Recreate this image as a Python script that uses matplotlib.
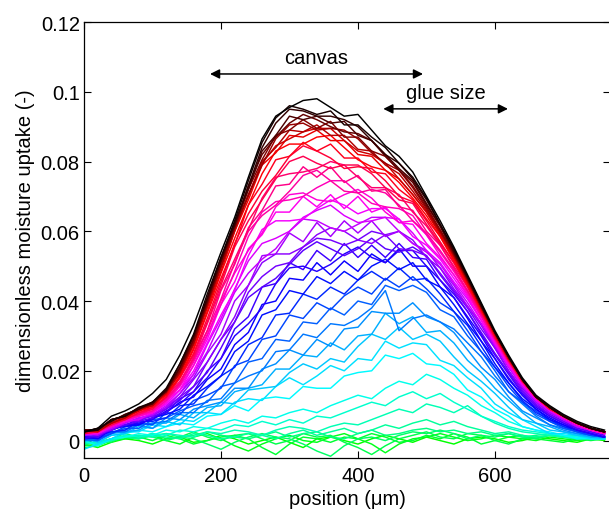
import numpy as np
import matplotlib
matplotlib.use("Agg")
import matplotlib.pyplot as plt
from matplotlib.colors import LinearSegmentedColormap

plt.rcParams["font.family"] = ["Liberation Sans", "DejaVu Sans"]

# sample positions across the specimen (um)
position = [0, 20, 40, 60, 80, 100, 120, 140, 160, 180, 200, 220, 240, 260,
            280, 300, 320, 340, 360, 380, 400, 420, 440, 460, 480, 500, 520,
            540, 560, 580, 600, 620, 640, 660, 680, 700, 720, 740, 760]

# uptake profiles in time order, values in units of 1e-3
green_scans = [
    [-1, -2, -0.5, 0.5, 0, -1, 0.5, 1, -0.5, 0, 1.5, 0.5, -1, 0, 1, -0.5, -2, 0.5, 1, 0, -1, 0.5, 1.5, 0.5, -0.5, 1, 0, -1, 0.5, 1, 0.5, -0.5, 0, 1, 0.5, 0, -0.5, 0.5, 0],
    [0, -1, 0.5, 1, 0.5, 1.5, 0, -1, 1, 2, 0.5, -1.5, -3, -1, 0.5, 1.5, 0, -0.5, 1, 2, 0.5, -1, -3.5, -1, 0.5, 1, 2, 1, 0, 0.5, 1.5, 1, 0.5, 0, 1, 0.5, 0, 0.5, 1],
    [-1.5, -1, 0, 0.5, 1, 0, 1.5, 0.5, -1, 0, 1, 1.5, 0.5, -2, -4, -1, 1, 0.5, -0.5, 1, 0.5, 2, 1, -0.5, 0, 1.5, 0.5, 2, 1, -1, 0, 1, 1.5, 0.5, 0, -0.5, 0.5, 1, 0.5],
    [0.5, 0, -0.5, 1.5, 1, 2, 0.5, 1, 2.5, 1, 0, 1.5, 2, 0.5, -1, 0, 2, 1, 1.5, -0.5, -2, -4, -1.5, 0.5, 1.5, 2.5, 1, 0.5, 2, 1.5, 0, -1, 0.5, 1, 1.5, 1, 0.5, 0, 0.5],
    [-2, -1.5, 0, 1, 1.5, 1, 0, 1, 0.5, -1, -2.5, -0.5, 1, 2, 1, 0.5, -1, -3, -4.5, -1.5, 0.5, 1, 0, 1.5, 2.5, 2, 3, 2, 0.5, 1.5, 1, 2, 1, 0.5, 1.5, 1, 0.5, 1, 0.5],
    [-1, -0.5, 0.5, 2, 1, 1.5, 2, 1, 1.5, 2.5, 1.5, 1, 0.5, 1.5, 2.5, 1, 2, 2.5, 1, 0.5, 2, 3, 1.5, 2, 3, 3.5, 2.5, 3, 2, 2.5, 1.5, 2, 1, 1.5, 2, 1, 1.5, 1, 0.5],
    [-1, -0.5, 0.5, 1, 0.5, 1.5, 1, 0.5, 2, 1.5, 0.5, 1, 2, 1.5, 0.5, 2, 3, 1.5, 2.5, 3.5, 2, 3, 4.5, 3.5, 5, 6, 4.5, 5.5, 4, 3, 2, 2.5, 1.5, 1, 1.5, 1, 0.5, 1, 0.5],
    [-0.5, -1, 0, 1, 1.5, 1, 2, 1.5, 1, 2.5, 2, 3, 2.5, 1.5, 3, 4, 3.5, 2.5, 4, 5, 4.5, 6, 7.5, 9, 8, 10.5, 9.5, 8, 10, 7, 5, 3.5, 2.5, 2, 1.5, 1, 1.5, 1, 0.5],
    [0, -1, 0.5, 1.5, 1, 2, 1.5, 3, 2.5, 3.5, 3, 4.5, 4, 5.5, 4.5, 6, 5, 7, 6.5, 8, 9.5, 11, 10, 12.5, 14, 12, 13.5, 11, 9, 7, 5.5, 4, 3, 2.5, 2, 1.5, 1, 1, 0.5],
    [0, -1.5, 0.5, 1, 2, 1.5, 3, 2.5, 4, 3.5, 5, 6, 5, 7, 6.5, 8, 9, 8, 10, 11.5, 13, 12, 15, 17, 16, 19, 17.5, 15, 13, 10, 8, 5.5, 4, 3, 2, 1.5, 1, 0.5, 0.5],
]

cyan_scans = [
    [0.5, -0.5, 1.5, 2, 3, 2.5, 4, 5, 4.5, 7, 7.5, 10, 8.5, 12, 12.5, 12, 15.5, 15, 15, 18.5, 19.5, 20, 24.5, 23.5, 25, 22, 21.5, 19, 14.5, 12.5, 9, 7, 4, 3, 2.5, 1.5, 0.5, 0.5, 0.5],
    [-2.5, -1, 0.5, 2.5, 2.5, 4.5, 4, 6, 5.5, 8, 7.5, 11, 12, 11.5, 15.5, 18, 16, 18.5, 21.5, 20, 23.5, 23, 28.5, 26.5, 28, 27.5, 23, 21.5, 18, 15, 10.5, 8, 6, 4, 2, 2, 1.5, 0.5, 0.5],
    [1, -0.5, 1.5, 2, 4, 3.5, 5.5, 4.5, 8, 8, 11, 10.5, 14.5, 15, 15.5, 19.5, 22, 20.5, 23.5, 22.5, 27, 30.5, 29, 32.5, 29, 30.5, 28.5, 24, 20, 17, 13.5, 9.5, 6, 5, 3, 2.5, 1.5, 1, 0.5],
    [0, 0.5, 2, 2.5, 3, 5, 5, 7.5, 6.5, 9.5, 10, 14, 15, 16, 20.5, 20.5, 24.5, 24, 28, 26, 30, 30.5, 36.5, 33.5, 35.5, 31, 31.5, 28, 23, 19.5, 15, 11.5, 8, 5, 4, 2.5, 2, 1, 1],
    [0.5, 0, 2.5, 3, 4.5, 3.5, 6.5, 6, 9, 10, 11, 15, 15, 20.5, 22, 26, 24.5, 29, 27, 32, 32.5, 37, 36.5, 36.5, 39.5, 35.5, 34, 31, 26, 21, 17.5, 12.5, 8.5, 6.5, 4.5, 3, 2, 1.5, 1],
    [0, 0, 2.5, 2.5, 4.5, 5, 5.5, 8, 8, 11.5, 12, 16.5, 18.5, 20, 25.5, 26, 30.5, 29.5, 33.5, 33, 35, 38, 43, 31.5, 35, 36, 34, 32, 28, 24, 18.5, 14, 10.5, 7, 4.5, 3.5, 2.5, 1.5, 1],
    [0.5, 0, 2, 3.5, 3.5, 6, 6.5, 8.5, 10, 11, 15.5, 16.5, 22.5, 23.5, 29, 28.5, 34, 33.5, 38, 36, 40, 39, 44.5, 43, 44.5, 42.5, 37.5, 35.5, 30, 25.5, 20, 14, 11, 7.5, 5.5, 3.5, 2.5, 1.5, 1],
    [1, 0.5, 2, 4, 5, 4.5, 8, 7.5, 11.5, 13, 15, 21.5, 23, 29, 30, 36, 35, 39.5, 37.5, 41.5, 44, 42, 46.5, 44, 47, 43.5, 39.5, 37, 31.5, 25.5, 21, 15.5, 11, 8.5, 5.5, 4, 2.5, 1.5, 1],
    [1, 1.5, 2.5, 3, 5.5, 5.5, 6.5, 10, 10.5, 15, 18.5, 21, 27.5, 29.5, 36, 36.5, 42, 40.5, 44, 42, 46, 48.5, 46, 49.5, 46, 46.5, 42, 37, 33, 27, 21, 16.5, 11.5, 8, 6, 4, 3, 2, 1],
    [0.5, 1, 3.5, 4, 4.5, 6.5, 7.5, 9, 13, 15.5, 18.5, 25.5, 28.5, 36, 37.5, 43, 42, 47, 45, 48.5, 46, 50, 52, 49, 51, 46, 44, 39, 33.5, 28.5, 22, 16.5, 12, 9, 6, 4.5, 3, 2, 1],
]

blue_scans = [
    [1, 0.5, 3, 4.5, 4.5, 6.5, 8, 11, 12.5, 17.5, 20.5, 27.5, 31, 39, 40, 46.5, 46, 51, 47.5, 51.5, 48.5, 53.5, 51, 55, 50, 50, 44, 41, 35, 28.5, 23.5, 17.5, 13, 9, 6.5, 4.5, 3, 2, 1],
    [1, 1, 3, 4.5, 5, 6, 8.5, 10.5, 14, 18, 23.5, 30, 33.5, 38, 45, 49.5, 50, 48.5, 50.5, 53.5, 55.5, 52.5, 51, 54.5, 54.5, 50, 46, 41, 35.5, 30, 23.5, 18, 13, 9.5, 7, 5, 3, 2, 1],
    [0.5, 1.5, 3, 4.5, 6, 7, 8, 12, 14, 20, 23.5, 32, 35.5, 44, 45, 51, 49, 54.5, 51.5, 56.5, 52.5, 56, 52.5, 56.5, 52.5, 52, 46, 42, 37, 30.5, 24.5, 19, 13.5, 10, 7, 5, 3.5, 2.5, 1.5],
    [1.5, 1, 3.5, 4.5, 5.5, 6.5, 9, 11.5, 15.5, 19.5, 26.5, 34, 41, 44, 46.5, 50.5, 54.5, 57, 55, 53, 55, 58, 55, 54, 55.5, 53, 47.5, 42.5, 37, 31, 25, 19.5, 14, 10, 7.5, 5.5, 3.5, 2.5, 1.5],
    [2, 1.5, 3.5, 5.5, 5.5, 7.5, 9, 12.5, 15.5, 22.5, 29, 34, 42.5, 47, 50, 51, 55.5, 58, 57.5, 56, 57.5, 60, 59, 55, 54.5, 53, 48, 43, 38, 32, 26.5, 20, 14.5, 10.5, 7.5, 5.5, 4, 3, 2],
    [1.5, 2, 3, 5, 6.5, 7, 9.5, 12.5, 17.5, 22.5, 29, 35.5, 44.5, 51, 53.5, 53.5, 55.5, 59, 61, 60, 57.5, 56.5, 59, 60, 57.5, 52.5, 49.5, 43.5, 38.5, 33, 26.5, 20, 15, 11, 8, 6, 4, 3, 2],
    [2, 1.5, 3.5, 5.5, 6, 7.5, 9.5, 13.5, 18, 25, 30.5, 40, 44.5, 53, 53.5, 59.5, 57, 62.5, 58.5, 63, 59.5, 63, 58.5, 60, 56.5, 54.5, 49.5, 44.5, 38.5, 33.5, 27, 21, 15.5, 11, 8, 6, 4, 3, 2],
    [1.5, 2, 3.5, 5, 6.5, 7.5, 10, 13.5, 19, 25.5, 34, 42.5, 48, 52, 55, 60, 63.5, 63, 61, 60, 62, 64, 64, 60, 56.5, 54, 50.5, 45, 39.5, 33.5, 27.5, 21, 15.5, 11.5, 8.5, 6, 4, 3, 2],
    [2.5, 2, 4.5, 5.5, 6, 8, 10.5, 14.5, 19, 27.5, 35, 43.5, 51.5, 56.5, 58, 60, 64, 66, 67.5, 64.5, 62.5, 63, 64, 63.5, 59.5, 54.5, 51, 45.5, 40.5, 34.5, 27.5, 21.5, 16, 11.5, 8.5, 6.5, 4.5, 3, 2],
    [2, 2, 4, 5.5, 7, 8, 10.5, 14.5, 20, 28, 36, 43, 53, 60.5, 63, 63, 63.5, 66.5, 69, 67.5, 65, 66.5, 66.5, 63.5, 58.5, 56, 52, 46.5, 41, 34.5, 28, 21.5, 16, 12, 9, 6.5, 4.5, 3, 2],
]

magenta_scans = [
    [2, 2.5, 4, 5.5, 7.5, 8, 11.5, 14.5, 21.5, 29, 39, 45.5, 55, 59, 65.5, 65.5, 70, 67, 70.5, 66.5, 70, 65.5, 67, 62.5, 62, 56.5, 52.5, 47.5, 41.5, 34.5, 28.5, 22, 16.5, 12, 9, 6.5, 4.5, 3, 2],
    [2, 2, 4, 5.5, 7, 8, 11, 15.5, 21.5, 30, 40, 48, 54.5, 59.5, 67, 70.5, 71, 69, 68.5, 70.5, 72, 69.5, 65.5, 62.5, 63, 59, 53, 47.5, 42, 35.5, 28.5, 22, 16.5, 12, 9, 6.5, 4.5, 3, 2],
    [2, 2.5, 4, 6, 7, 8.5, 12, 16, 22.5, 30.5, 39, 48.5, 58.5, 65.5, 68.5, 69, 70, 72.5, 74.5, 74.5, 71, 68, 67, 66.5, 64.5, 59, 54, 48.5, 42.5, 35.5, 29, 22.5, 16.5, 12, 9, 6.5, 4.5, 3, 2],
    [2.5, 2.5, 4.5, 6, 7.5, 8.5, 11.5, 16, 23, 31.5, 40.5, 51, 60, 64.5, 67.5, 71.5, 76, 77.5, 74.5, 71.5, 71, 72, 71, 67.5, 63, 59.5, 54.5, 49, 43, 36, 29, 22.5, 17, 12.5, 9, 7, 5, 3.5, 2.5],
    [2, 3, 4.5, 6.5, 7.5, 9.5, 12, 16.5, 24, 31.5, 43, 50.5, 61, 66, 73, 73.5, 78.5, 75.5, 78.5, 74, 76, 71.5, 72, 67, 66, 60, 56, 49.5, 43, 36.5, 29.5, 23, 17, 12.5, 9, 7, 5, 3.5, 2.5],
    [2.5, 2.5, 4.5, 6.5, 7.5, 9, 12.5, 17, 23.5, 33.5, 43.5, 52, 60.5, 69.5, 75.5, 76.5, 77, 78, 80, 79, 75.5, 72.5, 72.5, 70.5, 65.5, 61.5, 56, 50, 44, 36.5, 29.5, 23, 17, 12.5, 9, 7, 5, 3.5, 2.5],
    [2.5, 3, 4.5, 6, 8, 9, 12.5, 18, 24.5, 34, 44.5, 55.5, 63, 69, 75, 80, 81.5, 79.5, 78, 79, 79, 76.5, 72.5, 69, 68, 62, 56.5, 51, 44, 37, 29.5, 23, 17, 12.5, 9, 7, 5, 3.5, 2.5],
    [2, 2.5, 5, 6, 8, 9.5, 12.5, 18, 25, 35, 45.5, 56.5, 65, 71.5, 76, 81.5, 84.5, 83, 81, 78, 78.5, 78, 74.5, 70, 68.5, 63, 57, 51, 44.5, 37, 30, 23, 17, 12.5, 9, 7, 5, 3.5, 2.5],
    [3, 3, 5, 6.5, 8.5, 9.5, 13.5, 18, 26, 36.5, 46.5, 56, 67.5, 73.5, 80.5, 81.5, 85.5, 83, 85, 81, 81, 77, 76.5, 72, 69, 63.5, 58.5, 51.5, 44.5, 37.5, 30, 23.5, 17.5, 12.5, 9.5, 7, 5, 3.5, 2.5],
    [2.5, 3, 5, 6.5, 8.5, 10, 13, 18.5, 26.5, 37, 48, 58, 67.5, 76.5, 83, 85, 85, 87, 87.5, 84, 80.5, 78.5, 77.5, 74, 69.5, 64.5, 58.5, 52, 45, 37.5, 30.5, 23.5, 17.5, 12.5, 9.5, 7, 5, 3.5, 2.5],
]

red_scans = [
    [2.5, 3, 5, 6.5, 9, 10, 14, 19, 27.5, 38, 48.5, 60, 69, 79, 82.5, 87.5, 87, 89, 86, 86, 82, 81.5, 77.5, 75, 70.5, 65.5, 59, 52.5, 45.5, 38, 30.5, 23.5, 17.5, 12.5, 9.5, 7, 5, 3.5, 2.5],
    [3, 2.5, 5, 7, 8.5, 10.5, 13.5, 19.5, 27.5, 38.5, 49.5, 60, 70.5, 79.5, 84.5, 86.5, 88.5, 89.5, 89.5, 86, 83, 82, 79.5, 75, 70.5, 65.5, 59.5, 53, 45.5, 38, 30.5, 23.5, 17.5, 12.5, 9.5, 7, 5, 3.5, 2.5],
    [2.5, 3, 5, 6.5, 9, 10, 14, 19.5, 28.5, 39, 50, 61, 70, 80, 84, 89, 88.5, 90.5, 87.5, 87.5, 83.5, 83, 79, 76.5, 71.5, 66, 60, 53, 46, 38, 30.5, 23.5, 17.5, 12.5, 9.5, 7, 5, 3.5, 2.5],
    [3, 3, 6, 7, 9, 11, 14, 20.5, 28, 39.5, 50, 61, 70.5, 79, 86.5, 90.5, 91, 89, 89.5, 89, 86.5, 82.5, 79.5, 77.5, 72.5, 66.5, 60, 53.5, 46, 38.5, 31, 24, 17.5, 12.5, 9.5, 7, 5, 3.5, 2.5],
    [2.5, 3.5, 5.5, 7.5, 9, 10.5, 14.5, 20, 29, 39.5, 51, 61, 72, 80.5, 87.5, 89, 92, 89.5, 91.5, 87, 87, 83, 81.5, 77.5, 73, 67, 60.5, 53.5, 46.5, 38.5, 31, 24, 17.5, 12.5, 9.5, 7, 5, 3.5, 2.5],
    [3, 3, 6, 7, 9, 11, 14, 21, 29, 40, 51.5, 61.5, 73, 82, 87, 91, 93.5, 92, 90, 88.5, 88, 86, 81.5, 77.5, 74, 67.5, 61.5, 54, 46.5, 38.5, 31, 24, 17.5, 12.5, 9.5, 7, 5, 3.5, 2.5],
    [3, 3, 6, 7, 9.5, 10.5, 14.5, 21, 30, 40.5, 51.5, 62.5, 72, 83, 87.5, 93, 92, 93, 91, 91.5, 87.5, 86, 82, 78, 74.5, 68, 61.5, 54, 46.5, 38.5, 31, 24, 17.5, 12.5, 9.5, 7, 5, 3.5, 2.5],
    [2.5, 3.5, 5.5, 7.5, 9, 11, 14.5, 22, 30, 41, 52.5, 62, 73, 84, 91, 95, 94.5, 93, 93, 92, 90, 86, 82, 79.5, 75, 69, 62, 54.5, 47, 39, 31, 24, 17.5, 12.5, 9.5, 7, 5, 3.5, 2.5],
    [2.5, 3, 6, 7, 9.5, 11, 15, 22, 30.5, 42, 52.5, 63, 74.5, 85.5, 92.5, 96, 95, 93.5, 94.5, 90.5, 90.5, 87, 84, 79.5, 75.5, 69.5, 62, 55, 47, 39, 31, 24, 17.5, 12.5, 9.5, 7, 5, 3.5, 2.5],
    [2.5, 3.5, 7, 8.5, 10.5, 13.5, 17.5, 24.5, 33, 43.5, 54, 64, 75.5, 86.5, 93, 95.5, 97.5, 98, 95.5, 93, 93.5, 89, 84.5, 81.5, 77, 70, 63, 55.5, 47.5, 39.5, 31.5, 24.5, 18, 13, 10, 7.5, 5.5, 4, 3],
]

ytick_values = [0, 0.02, 0.04, 0.06, 0.08, 0.1, 0.12]
ytick_labels = ["0", "0.02", "0.04", "0.06", "0.08", "0.1", "0.12"]
xtick_values = [0, 200, 400, 600]

# extent arrows (um)
canvas_span = (184, 495)
glue_span = (437, 619)

scans = green_scans + cyan_scans + blue_scans + magenta_scans + red_scans
cmap = LinearSegmentedColormap.from_list(
    "uptake", ["#00ff00", "#00ffff", "#0000ff", "#ff00ff", "#ff0000", "#000000"])

fig = plt.figure(figsize=(6.09, 5.10), dpi=100)
ax = fig.add_axes([84 / 609, 51 / 510, 526 / 609, 436 / 510])

n = len(scans)
for i, scan in enumerate(scans):
    ax.plot(position, np.array(scan) * 1e-3, color=cmap(i / (n - 1)), lw=1.05)

fs = 14.5
ax.set_xlim(0, 768)
ax.set_ylim(-0.005, 0.12)
ax.set_xticks(xtick_values)
ax.set_yticks(ytick_values)
ax.set_yticklabels(ytick_labels)
ax.tick_params(direction="in", length=5, width=0.8, top=True, right=True,
               labelsize=fs)
ax.tick_params(axis="x", pad=6)
ax.tick_params(axis="y", pad=3)
for s in ax.spines.values():
    s.set_linewidth(0.9)

ax.set_xlabel("position (μm)", fontsize=fs, labelpad=3)
ax.set_ylabel("dimensionless moisture uptake (-)", fontsize=fs, labelpad=4)

arrow = dict(arrowstyle="<|-|>", color="k", lw=1.1, mutation_scale=14,
             shrinkA=0, shrinkB=0)
ax.annotate("", xy=(canvas_span[1], 0.1051), xytext=(canvas_span[0], 0.1051),
            arrowprops=arrow)
ax.text(sum(canvas_span) / 2, 0.1097, "canvas", fontsize=fs,
        ha="center", va="center")
ax.annotate("", xy=(glue_span[1], 0.0951), xytext=(glue_span[0], 0.0951),
            arrowprops=arrow)
ax.text(sum(glue_span) / 2, 0.0997, "glue size", fontsize=fs,
        ha="center", va="center")

fig.savefig("out.png", dpi=100)
